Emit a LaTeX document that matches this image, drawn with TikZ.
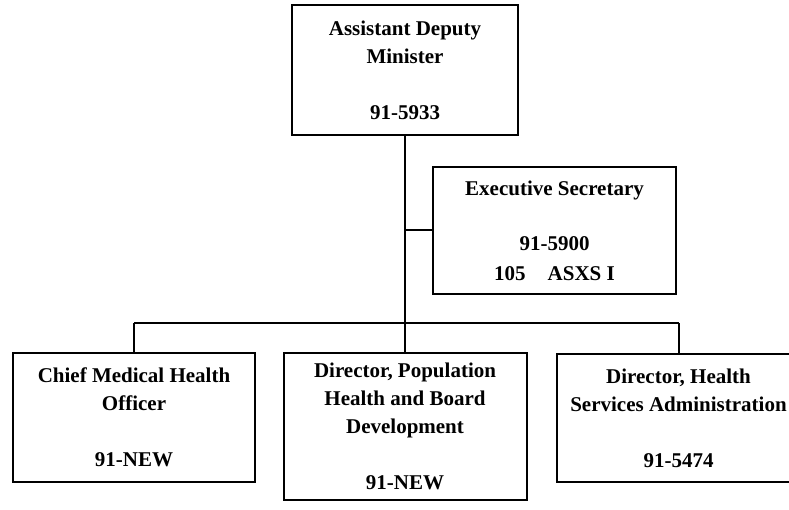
\documentclass[tikz,border=0pt]{standalone}
\usepackage{fontspec}
\setmainfont{Liberation Serif}
\begin{document}
\begin{tikzpicture}[x=1pt,y=-1pt,
  box/.style={draw, line width=2pt, rectangle, inner sep=0pt, align=center,
    font=\fontsize{21}{28}\selectfont\bfseries},
  conn/.style={line width=2pt}]
\useasboundingbox (0,0) rectangle (789,510);
\clip (0,0) rectangle (789,510);
\node[box, minimum width=226pt, minimum height=130pt] (adm) at (405,70)
  {Assistant Deputy\\Minister\\[28pt]91-5933};
\node[box, minimum width=243pt, minimum height=127pt] (exec) at (554.5,230.5)
  {Executive Secretary\\[27pt]91-5900\\[2pt]105\hspace{22pt}ASXS I};
\node[box, minimum width=242pt, minimum height=129pt] (cmo) at (134,417.5)
  {Chief Medical Health\\Officer\\[28pt]91-NEW};
\node[box, minimum width=243pt, minimum height=147pt] (dpop) at (405,426.5)
  {Director, Population\\Health and Board\\Development\\[28pt]91-NEW};
\node[box, minimum width=243pt, minimum height=128pt] (dhsa) at (678.5,418)
  {Director, Health\\Services Administration\\[28pt]91-5474};
\coordinate (bar) at (405,323);
\draw[conn] (adm.south) -- (bar);
\draw[conn] (exec.west) -- (exec.west -| adm.south);
\draw[conn] (cmo.north |- bar) -- (dhsa.north |- bar);
\draw[conn] (cmo.north) -- (cmo.north |- bar);
\draw[conn] (dpop.north) -- (bar);
\draw[conn] (dhsa.north) -- (dhsa.north |- bar);
\end{tikzpicture}
\end{document}
